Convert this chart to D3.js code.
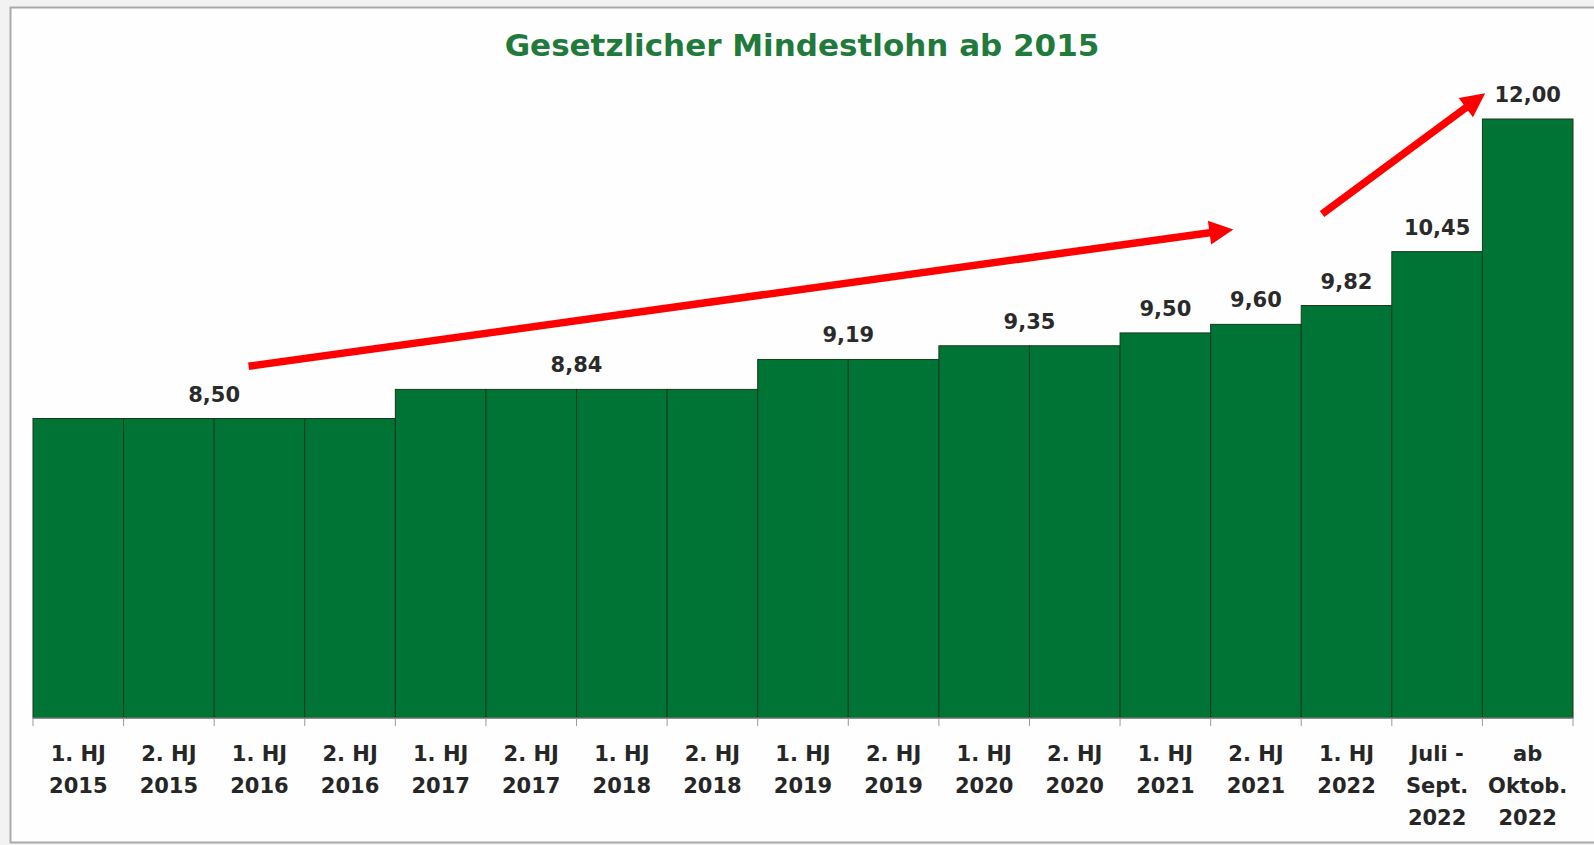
<!DOCTYPE html>
<html>
<head>
<meta charset="utf-8">
<script src="https://cdn.jsdelivr.net/npm/d3@7"></script>
<style>
    body { margin: 0; background: #f2f2f2; }
    svg { display: block; }
</style>
</head>
<body>
<svg></svg>
<script>
// categories (one line per array item)
const categories = [
    ["1. HJ", "2015"], ["2. HJ", "2015"], ["1. HJ", "2016"], ["2. HJ", "2016"],
    ["1. HJ", "2017"], ["2. HJ", "2017"], ["1. HJ", "2018"], ["2. HJ", "2018"],
    ["1. HJ", "2019"], ["2. HJ", "2019"], ["1. HJ", "2020"], ["2. HJ", "2020"],
    ["1. HJ", "2021"], ["2. HJ", "2021"], ["1. HJ", "2022"],
    ["Juli -", "Sept.", "2022"], ["ab", "Oktob.", "2022"]
];
// Mindestlohn in Euro
const wages = [8.50, 8.50, 8.50, 8.50, 8.84, 8.84, 8.84, 8.84, 9.19, 9.19, 9.35, 9.35, 9.50, 9.60, 9.82, 10.45, 12.00];
const yDomain = [5, 12];
// red arrows: [band position, value] of tail and tip
const arrowTails = [[2.38, 9.11], [14.23, 10.89]];
const arrowTips = [[13.25, 10.71], [16.03, 12.30]];

const width = 1594;
const height = 845;
const left = 33, right = 1573;
const baseY = 718, topY = 119;

let svg = d3.select("svg").attr("width", width).attr("height", height);

// frame
svg.append("rect")
    .attr("x", 10.5).attr("y", 7.5)
    .attr("width", width).attr("height", 835)
    .attr("fill", "#fdfefd")
    .attr("stroke", "#a9a9a9").attr("stroke-width", 2);

svg.append("text")
    .attr("x", 802).attr("y", 56)
    .attr("text-anchor", "middle")
    .style("font-family", "'DejaVu Sans', sans-serif")
    .style("font-weight", "bold")
    .style("font-size", "31px")
    .style("fill", "#1f7a3c")
    .text("Gesetzlicher Mindestlohn ab 2015");

let scX = d3.scaleBand().domain(d3.range(wages.length)).range([left, right]).padding(0);
let scY = d3.scaleLinear().domain(yDomain).range([baseY, topY]);
// band units -> pixels (for annotations)
let scPos = d3.scaleLinear().domain([0, wages.length]).range([left, right]);

svg.selectAll(".bar").data(wages).enter().append("rect").attr("class", "bar")
    .attr("x", (d, i) => scX(i))
    .attr("y", d => scY(d))
    .attr("width", scX.bandwidth())
    .attr("height", d => baseY - scY(d))
    .style("fill", "#007434")
    .style("stroke", "#18391f")
    .style("stroke-width", 1);

// axis line + ticks at the band edges
let axis = svg.append("g");
axis.append("line")
    .attr("x1", left).attr("x2", right)
    .attr("y1", baseY).attr("y2", baseY)
    .style("stroke", "#8c8c8c");
axis.selectAll("line.tick").data(d3.range(wages.length + 1)).enter().append("line").attr("class", "tick")
    .attr("x1", i => scPos(i)).attr("x2", i => scPos(i))
    .attr("y1", baseY).attr("y2", baseY + 8)
    .style("stroke", "#9a9a9a");

let labels = axis.selectAll("text.cat").data(categories).enter().append("text").attr("class", "cat")
    .attr("text-anchor", "middle")
    .style("font-family", "'DejaVu Sans', sans-serif")
    .style("font-weight", "bold")
    .style("font-size", "21px")
    .style("fill", "#262626");
labels.selectAll("tspan").data((d, i) => d.map(t => ({t, i}))).enter().append("tspan")
    .attr("x", d => scX(d.i) + scX.bandwidth() / 2)
    .attr("y", (d, j) => 761 + j * 32)
    .text(d => d.t);

// value labels: one per run of equal values
let runs = [];
wages.forEach((v, i) => {
    let last = runs[runs.length - 1];
    if (last && last.value === v) last.end = i;
    else runs.push({value: v, start: i, end: i});
});
let fmt = d3.formatLocale({decimal: ",", thousands: ".", grouping: [3], currency: ["", " €"]}).format(".2f");

svg.selectAll(".val").data(runs).enter().append("text").attr("class", "val")
    .attr("x", d => (scX(d.start) + scX(d.end) + scX.bandwidth()) / 2)
    .attr("y", d => scY(d.value) - 17)
    .attr("text-anchor", "middle")
    .style("font-family", "'DejaVu Sans', sans-serif")
    .style("font-weight", "bold")
    .style("font-size", "21px")
    .style("fill", "#2a2a2a")
    .text(d => fmt(d.value));

// red arrows
const headLen = 24, headHalf = 12;
arrowTails.forEach((tail, k) => {
    let x1 = scPos(tail[0]), y1 = scY(tail[1]);
    let x2 = scPos(arrowTips[k][0]), y2 = scY(arrowTips[k][1]);
    let len = Math.hypot(x2 - x1, y2 - y1);
    let ux = (x2 - x1) / len, uy = (y2 - y1) / len;
    let bx = x2 - ux * headLen, by = y2 - uy * headLen;
    svg.append("line")
        .attr("x1", x1).attr("y1", y1)
        .attr("x2", bx + ux * 2).attr("y2", by + uy * 2)
        .style("stroke", "#ff0000")
        .style("stroke-width", 7.5);
    svg.append("polygon")
        .attr("points", [[x2, y2], [bx - uy * headHalf, by + ux * headHalf], [bx + uy * headHalf, by - ux * headHalf]].join(" "))
        .style("fill", "#ff0000");
});
</script>
</body>
</html>
